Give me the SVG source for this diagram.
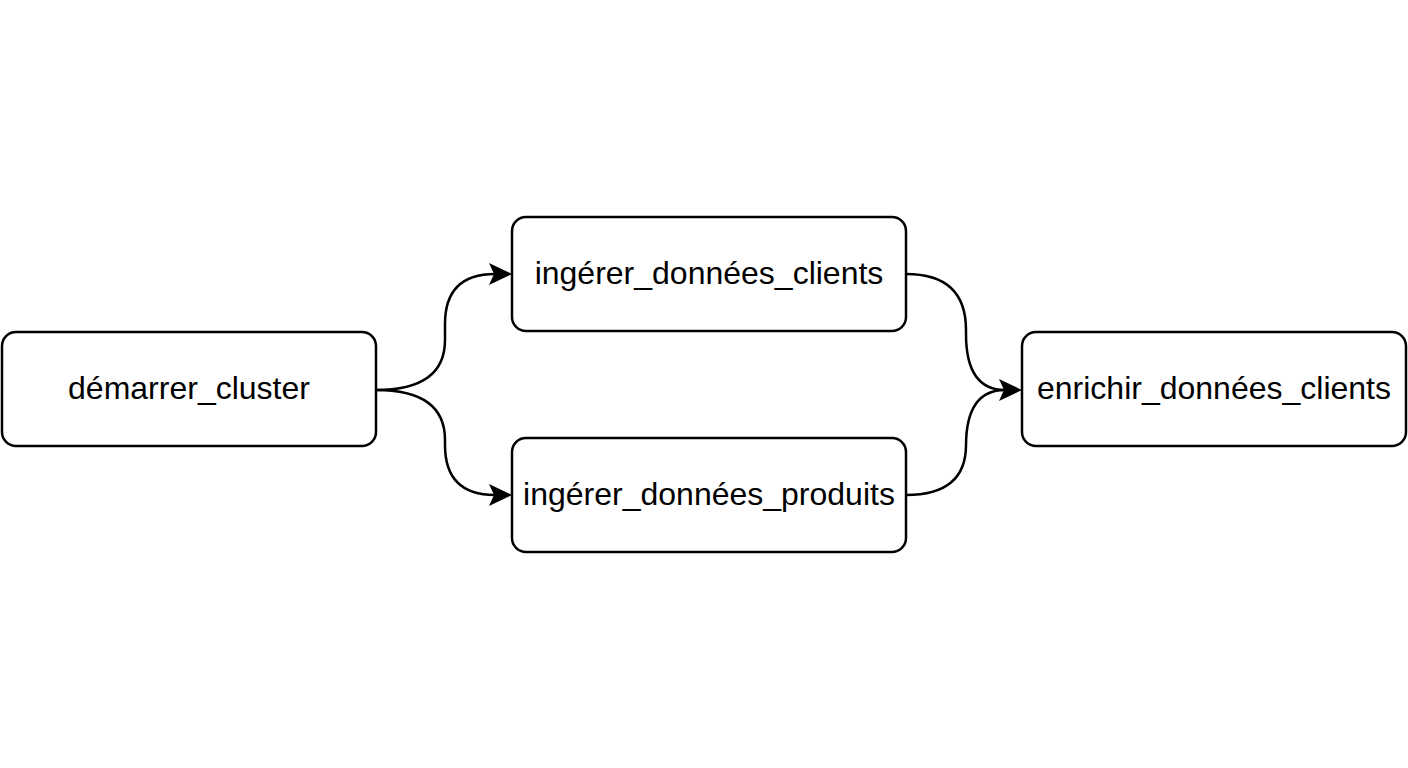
<svg xmlns="http://www.w3.org/2000/svg" width="1408" height="768" viewBox="0 0 1408 768">
<style>
.n rect{fill:#fff;stroke:#000;stroke-width:2.5}
.n text{font-family:"Liberation Sans",Arial,sans-serif;font-size:32px;fill:#000;text-anchor:middle;dominant-baseline:central}
.c path{fill:none;stroke:#000;stroke-width:2.5}
.c path.h{fill:#000;stroke:none}
</style>
<rect width="1408" height="768" fill="#fff"/>
<g class="c">
<path d="M376,390 Q445,390 445,340 L445,324 Q445,274 495,274"/>
<path d="M376,390 Q445,390 445,440 L445,445 Q445,495 495,495"/>
<path d="M906,274 Q966,274 966,330 L966,334 Q966,390 1005,390"/>
<path d="M906,495 Q966,495 966,445 L966,446 Q966,390 1005,390"/>
<path class="h" d="M512,274 L489,263 L494,274 L489,285 Z"/>
<path class="h" d="M512,495 L489,484 L494,495 L489,506 Z"/>
<path class="h" d="M1022,390 L999,379 L1004,390 L999,401 Z"/>
</g>
<g id="demarrer" class="n"><rect x="2" y="332" width="374" height="114" rx="14"/><text x="189" y="388">démarrer_cluster</text></g>
<g id="clients" class="n"><rect x="512" y="217" width="394" height="114" rx="14"/><text x="709" y="273">ingérer_données_clients</text></g>
<g id="produits" class="n"><rect x="512" y="438" width="394" height="114" rx="14"/><text x="709" y="494">ingérer_données_produits</text></g>
<g id="enrichir" class="n"><rect x="1022" y="332" width="384" height="114" rx="14"/><text x="1214" y="388">enrichir_données_clients</text></g>
</svg>
